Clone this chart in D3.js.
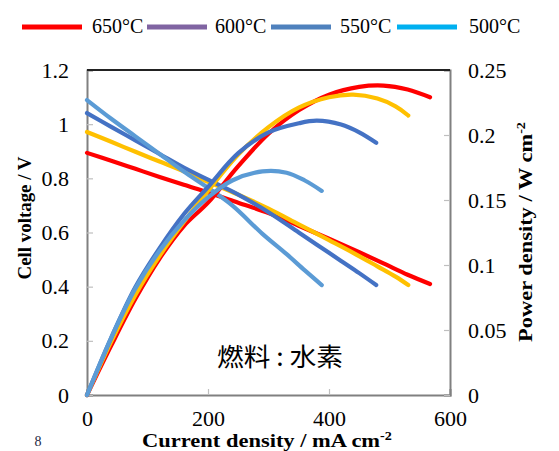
<!DOCTYPE html>
<html>
<head>
<meta charset="utf-8">
<script src="https://cdn.jsdelivr.net/npm/d3@7"></script>
<style>
html,body{margin:0;padding:0;background:#fff;}
svg{display:block;}
</style>
</head>
<body>
<svg id="chart" width="559" height="451"></svg>
<script>
// ---------- data ----------
const seriesNames = ["650°C", "600°C", "550°C", "500°C"];
const lineColors = ["#ff0000", "#ffc000", "#4472c4", "#5b9bd5"];
const legendColors = ["#ff0000", "#8064a2", "#4f81bd", "#00b0f0"];

const current650 = [0, 40, 80, 120, 160, 200, 250, 300, 350, 400, 450, 490, 530, 567];
const voltage650 = [0.894, 0.865, 0.835, 0.805, 0.776, 0.748, 0.71, 0.672, 0.625, 0.577, 0.527, 0.486, 0.444, 0.41];
const power650   = [0, 0.038, 0.074, 0.105, 0.130, 0.148, 0.176, 0.201, 0.219, 0.231, 0.237, 0.238, 0.235, 0.229];

const current600 = [0, 40, 80, 120, 160, 200, 250, 300, 350, 400, 440, 480, 510, 531];
const voltage600 = [0.971, 0.935, 0.898, 0.862, 0.826, 0.787, 0.74, 0.688, 0.63, 0.572, 0.525, 0.475, 0.437, 0.406];
const power600   = [0, 0.041, 0.077, 0.107, 0.133, 0.157, 0.185, 0.206, 0.221, 0.229, 0.231, 0.228, 0.222, 0.215];

const current550 = [0, 40, 80, 120, 160, 200, 250, 300, 350, 380, 420, 450, 478];
const voltage550 = [1.041, 0.99, 0.94, 0.89, 0.84, 0.795, 0.74, 0.675, 0.6, 0.555, 0.495, 0.45, 0.406];
const power550   = [0, 0.044, 0.083, 0.113, 0.139, 0.160, 0.186, 0.202, 0.209, 0.211, 0.208, 0.202, 0.194];

const current500 = [0, 40, 80, 120, 160, 200, 240, 290, 330, 360, 388];
const voltage500 = [1.089, 1.02, 0.955, 0.89, 0.825, 0.765, 0.70, 0.595, 0.52, 0.46, 0.406];
const power500   = [0, 0.044, 0.082, 0.111, 0.134, 0.152, 0.165, 0.172, 0.171, 0.165, 0.157];

const xTicks = [0, 200, 400, 600];
const yTicks = [0, 0.2, 0.4, 0.6, 0.8, 1, 1.2];
const y2Ticks = [0, 0.05, 0.1, 0.15, 0.2, 0.25];

const annotation = "燃料 : 水素";

// ---------- build ----------
const currents = [current650, current600, current550, current500];
const voltages = [voltage650, voltage600, voltage550, voltage500];
const powers = [power650, power600, power550, power500];

const svg = d3.select("#chart");
const L = 87, R = 450, T = 70, B = 395;

const x = d3.scaleLinear().domain([0, 600]).range([L, R]);
const y = d3.scaleLinear().domain([0, 1.2]).range([B, T]);
const y2 = d3.scaleLinear().domain([0, 0.25]).range([B, T]);

const serif = "'Liberation Serif','Times New Roman',serif";
const fmt = d => String(+d.toFixed(2));
const axisColor = "#808080";

// horizontal stretch helper (text drawn at cx,cy, optionally rotated)
function stretch(sel, cx, cy, rot, target) {
  const w = sel.node().getBBox().width;
  const s = target / w;
  sel.attr("x", 0).attr("y", 0)
    .attr("transform", `translate(${cx},${cy}) rotate(${rot}) scale(${s},1)`);
}

// axes
const gx = svg.append("g").attr("transform", `translate(0,${B})`)
  .call(d3.axisBottom(x).tickValues(xTicks).tickSize(-6).tickPadding(15).tickFormat(fmt));
const gy = svg.append("g").attr("transform", `translate(${L},0)`)
  .call(d3.axisLeft(y).tickValues(yTicks).tickSize(-6).tickPadding(18).tickFormat(fmt));
const gy2 = svg.append("g").attr("transform", `translate(${R},0)`)
  .call(d3.axisRight(y2).tickValues(y2Ticks).tickSize(-6).tickPadding(18).tickFormat(fmt));

[gx, gy, gy2].forEach(g => {
  g.attr("font-family", serif).attr("font-size", 22);
  g.select(".domain").attr("stroke", axisColor).attr("stroke-width", 2);
  g.selectAll(".tick line").attr("stroke", "#bfbfbf").attr("stroke-width", 1.2);
  g.selectAll(".tick text").attr("font-family", serif).attr("font-size", 22).attr("fill", "#000");
});
// top border
svg.append("line").attr("x1", L).attr("x2", R).attr("y1", T).attr("y2", T)
  .attr("stroke", "#222").attr("stroke-width", 1.8);

// lines
const lineGen = d3.line().curve(d3.curveCatmullRom.alpha(0.5));
const plot = svg.append("g");
seriesNames.forEach((s, k) => {
  const pts = currents[k].map((c, i) => [x(c), y(voltages[k][i])]);
  plot.append("path").attr("d", lineGen(pts)).attr("fill", "none")
    .attr("stroke", lineColors[k]).attr("stroke-width", 4.2)
    .attr("stroke-linecap", "round").attr("stroke-linejoin", "round");
});
seriesNames.forEach((s, k) => {
  const pts = currents[k].map((c, i) => [x(c), y2(powers[k][i])]);
  plot.append("path").attr("d", lineGen(pts)).attr("fill", "none")
    .attr("stroke", lineColors[k]).attr("stroke-width", 4.2)
    .attr("stroke-linecap", "round").attr("stroke-linejoin", "round");
});

// legend
const legX = [22, 147, 271, 397];
const legTextX = [92, 215, 340, 469];
seriesNames.forEach((s, k) => {
  svg.append("line").attr("x1", legX[k]).attr("x2", legX[k] + 60)
    .attr("y1", 27).attr("y2", 27)
    .attr("stroke", legendColors[k]).attr("stroke-width", 5);
  svg.append("text").attr("x", legTextX[k]).attr("y", 33)
    .attr("font-family", serif).attr("font-size", 20).attr("fill", "#000")
    .text(s);
});

// axis titles
const xt = svg.append("text")
  .attr("text-anchor", "middle").attr("font-family", serif)
  .attr("font-size", 19).attr("font-weight", "bold").attr("fill", "#000");
xt.append("tspan").text("Current density / mA cm");
xt.append("tspan").attr("font-size", 12).attr("dy", -7).text("-2");
stretch(xt, 267, 447, 0, 250);

const yt = svg.append("text")
  .attr("text-anchor", "middle").attr("font-family", serif)
  .attr("font-size", 18).attr("font-weight", "bold").attr("fill", "#000")
  .text("Cell voltage / V");
stretch(yt, 31, 218, -90, 123);

const yt2 = svg.append("text")
  .attr("text-anchor", "middle").attr("font-family", serif)
  .attr("font-size", 19).attr("font-weight", "bold").attr("fill", "#000");
yt2.append("tspan").text("Power density / W cm");
yt2.append("tspan").attr("font-size", 12).attr("dy", -7).text("-2");
stretch(yt2, 532, 232, -90, 220);

// annotation
const ann = svg.append("text").attr("text-anchor", "middle")
  .attr("font-family", "'Noto Sans CJK JP','Noto Sans CJK SC',sans-serif")
  .attr("font-size", 25).attr("fill", "#000").text(annotation);
stretch(ann, 280, 366, 0, 126);

// page number
svg.append("text").attr("x", 38).attr("y", 446).attr("text-anchor", "middle")
  .attr("font-family", serif).attr("font-size", 14).attr("fill", "#1f2a44").text("8");
</script>
</body>
</html>
